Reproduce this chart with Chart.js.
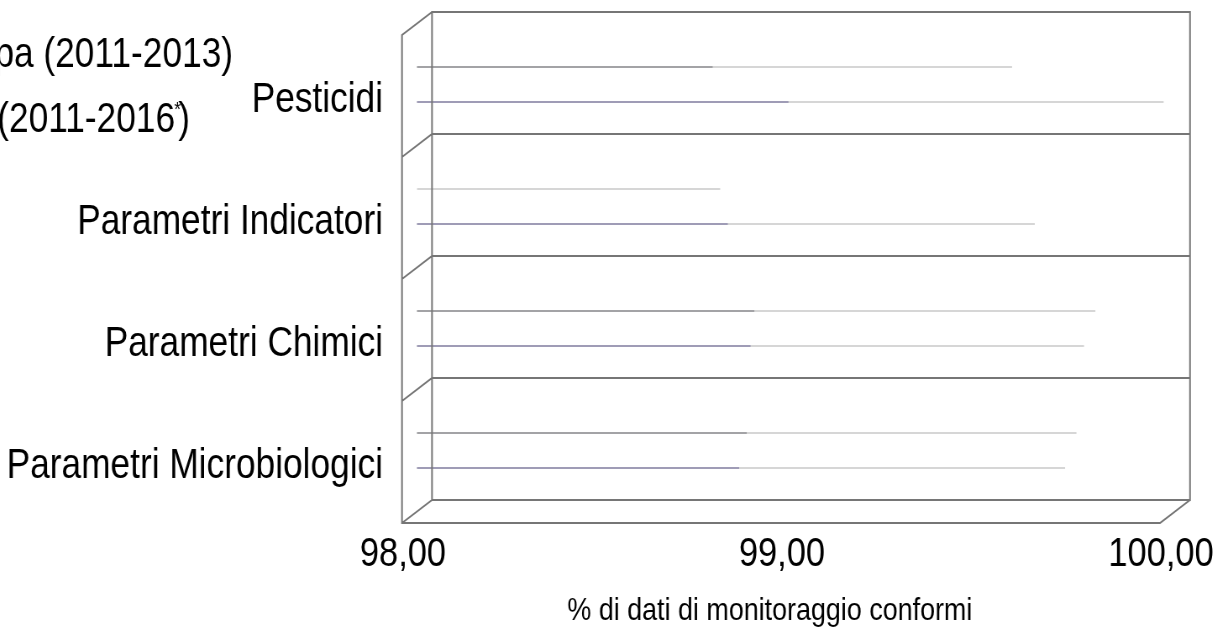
<!DOCTYPE html>
<html>
<head>
<meta charset="utf-8">
<script src="https://cdn.jsdelivr.net/npm/chart.js@4/dist/chart.umd.min.js"></script>
<style>
  html, body { margin: 0; padding: 0; background: #fff; overflow: hidden; }
  /* testo stretto come nell'originale: si disegna largo e si comprime in orizzontale */
  #wrap { position: absolute; left: -200px; top: 0; width: 1800px; height: 632px;
          transform: scaleX(0.84); transform-origin: 0 0; }
</style>
</head>
<body>
<div id="wrap"><canvas id="chartConformita"></canvas></div>
<script>
// categorie (dall'alto in basso)
var categorie = ['Pesticidi', 'Parametri Indicatori', 'Parametri Chimici', 'Parametri Microbiologici'];

// % di dati conformi
var europaValori = [99.57, 98.80, 99.79, 99.74];
var italiaValori = [99.97, 99.63, 99.76, 99.71];

// tratto più scuro di ogni barra (come appare nel grafico)
var europaOmbra = [98.78, null, 98.89, 98.87];
var italiaOmbra = [98.98, 98.82, 98.88, 98.85];

var serieNomi = ['Europa (2011-2013)', 'Italia (2011-2016'];
var assePct = [98, 99, 100];

var FONT = "'Liberation Sans', Arial, sans-serif";
var K = 0.84;                       // compressione orizzontale
var PROF_X = 15 / K, PROF_Y = 11.5; // profondità finta 3D

// cornice 3D (pareti e pavimento)
var gnCornice = {
  id: 'gnCornice',
  afterDatasetsDraw: function(chart) {
    var ca = chart.chartArea;
    var yS = chart.scales.y;
    var ctx = chart.ctx;
    var bl = ca.left + PROF_X, br = ca.right + PROF_X, bt = ca.top - PROF_Y, bb = ca.bottom - PROF_Y;
    var fl = ca.left - PROF_X, fr = ca.right - PROF_X, ft = ca.top + PROF_Y, fb = ca.bottom + PROF_Y;
    ctx.save();
    ctx.strokeStyle = '#767676';
    ctx.lineWidth = 2;
    ctx.beginPath();
    // parete di fondo
    ctx.rect(bl, bt, br - bl, bb - bt);
    // divisori categorie
    for (var i = 1; i < categorie.length; i++) {
      var y = (yS.getPixelForTick(i - 1) + yS.getPixelForTick(i)) / 2 - PROF_Y;
      ctx.moveTo(br, y); ctx.lineTo(bl, y);
      ctx.lineTo(fl, y + 2 * PROF_Y);
    }
    // parete sinistra e pavimento
    ctx.moveTo(bl, bt); ctx.lineTo(fl, ft);
    ctx.lineTo(fl, fb);
    ctx.lineTo(fr, fb);
    ctx.lineTo(br, bb);
    ctx.moveTo(bl, bb); ctx.lineTo(fl, fb);
    ctx.stroke();
    ctx.restore();
  }
};

// legenda (tagliata a sinistra come nell'originale)
var gnLegenda = {
  id: 'gnLegenda',
  afterDraw: function(chart) {
    var ctx = chart.ctx;
    var x1 = 433 / K, x2 = 390 / K;
    ctx.save();
    ctx.fillStyle = '#000';
    ctx.textBaseline = 'middle';
    ctx.textAlign = 'right';
    ctx.font = '42px ' + FONT;
    ctx.fillText(serieNomi[0], x1, 55);
    ctx.fillText(')', x2, 120);
    var wPar = ctx.measureText(')').width;
    ctx.font = '20px ' + FONT;
    ctx.fillText('*', x2 - wPar + 3, 110);
    var wAst = ctx.measureText('*').width;
    ctx.font = '42px ' + FONT;
    ctx.fillText(serieNomi[1], x2 - wPar - wAst + 4, 120);
    ctx.restore();
  }
};

function gnFormato(v) {
  return Number(v).toFixed(2).replace('.', ',');
}

var canvas = document.getElementById('chartConformita');
new Chart(canvas, {
  type: 'bar',
  data: {
    labels: categorie,
    datasets: [
      { label: 'ombra eu', data: europaOmbra, stack: 'eu', backgroundColor: '#a3a3a6' },
      { label: 'ombra it', data: italiaOmbra, stack: 'it', backgroundColor: '#9f9cb6' },
      { label: serieNomi[0], data: europaValori, stack: 'eu', backgroundColor: '#d6d6d6' },
      { label: serieNomi[1] + '*)', data: italiaValori, stack: 'it', backgroundColor: '#d6d6d6' }
    ]
  },
  options: {
    indexAxis: 'y',
    responsive: true,
    maintainAspectRatio: false,
    animation: false,
    categoryPercentage: 0.574,
    barPercentage: 0.06,
    layout: { padding: { left: 0, top: 23.5, right: 1800 - 1375 / K, bottom: 0 } },
    plugins: {
      legend: { display: false },
      tooltip: { enabled: false }
    },
    scales: {
      y: {
        stacked: true,
        grid: { display: false, drawTicks: false },
        border: { display: false },
        ticks: { color: '#000', font: { family: FONT, size: 42 }, padding: 617 / K - 583 / K, labelOffset: 16 },
        afterFit: function(scale) {
          scale.width = 617 / K;
          scale.paddingTop = 0;
          scale.paddingBottom = 0;
        }
      },
      x: {
        stacked: false,
        min: 98,
        max: 100,
        afterBuildTicks: function(scale) {
          scale.ticks = assePct.map(function(v) { return { value: v }; });
        },
        grid: { display: false, drawTicks: false },
        border: { display: false },
        ticks: {
          color: '#000', font: { family: FONT, size: 41 }, padding: 19, maxRotation: 0,
          labelOffset: -14 / K,
          callback: function(v) { return gnFormato(v); }
        },
        title: {
          display: true,
          text: '% di dati di monitoraggio conformi\u00a0\u00a0\u00a0\u00a0\u00a0\u00a0\u00a0',
          color: '#000',
          font: { family: FONT, size: 32 },
          padding: { top: 0, bottom: 2 }
        },
        afterFit: function(scale) {
          scale.height = 120.5;
          scale.paddingLeft = 0;
          scale.paddingRight = 0;
        }
      }
    }
  },
  plugins: [gnCornice, gnLegenda]
});
</script>
</body>
</html>
